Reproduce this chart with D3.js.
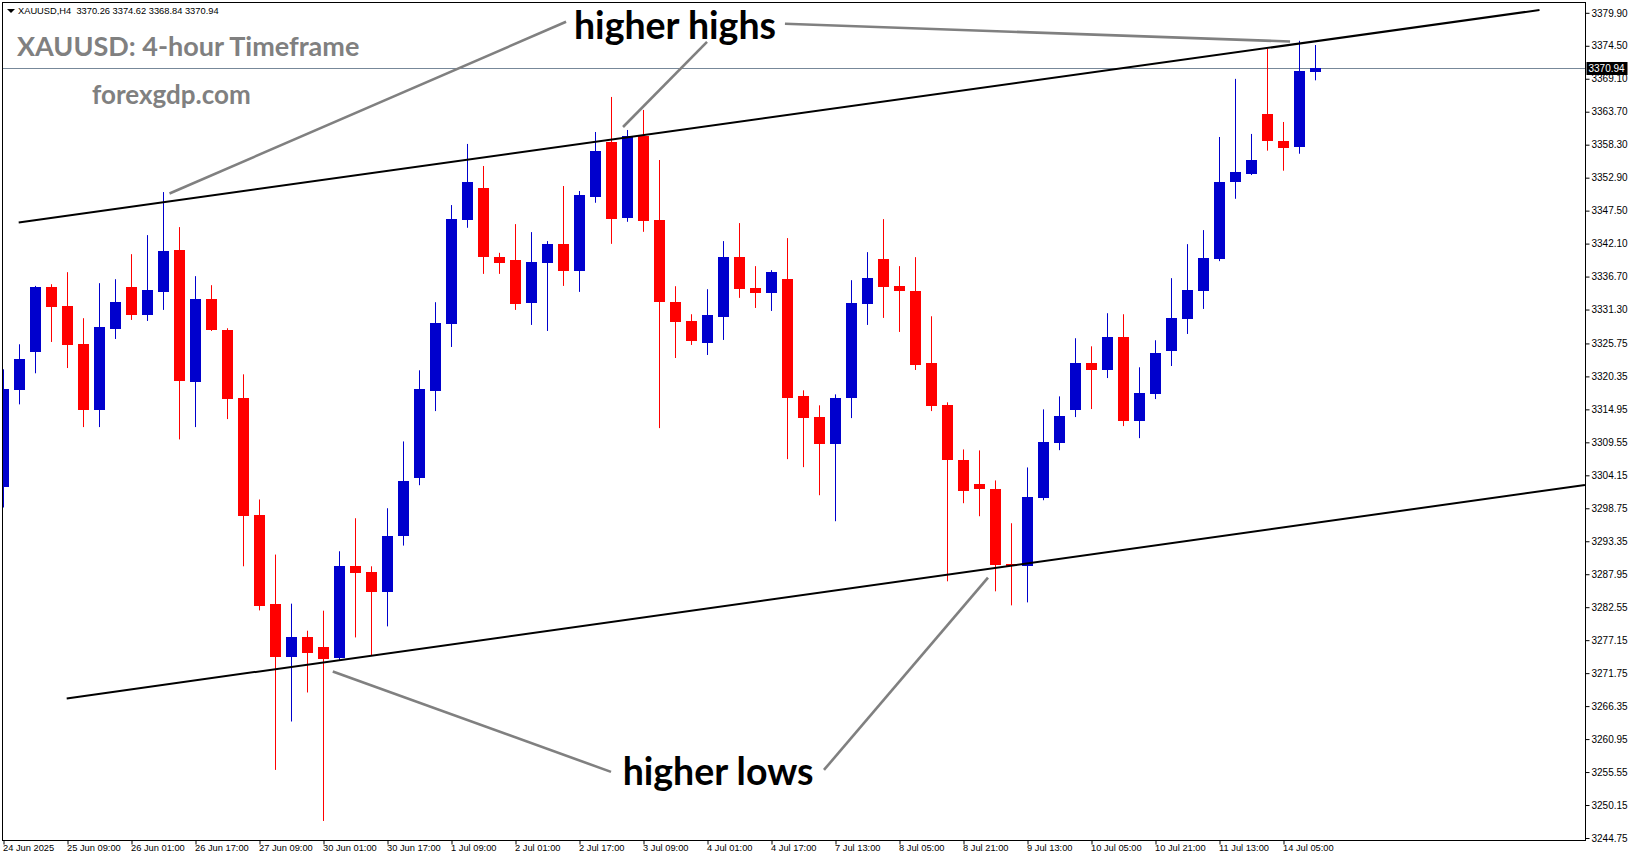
<!DOCTYPE html>
<html><head><meta charset="utf-8">
<script src="https://cdn.jsdelivr.net/npm/d3@7/dist/d3.min.js"></script>
<style>
html,body{margin:0;padding:0;background:#fff;overflow:hidden}
svg{display:block}
</style></head><body>
<svg id="c" width="1631" height="861"></svg>
<script>
// ---------------- data ----------------
const symbolInfo = "XAUUSD,H4";
const lastOHLC = [3370.26, 3374.62, 3368.84, 3370.94];
const chartTitle = "XAUUSD: 4-hour Timeframe";
const siteName = "forexgdp.com";

const opens = [3302.16,3318.07,3324.35,3334.96,3331.84,3325.61,3314.84,3328.12,3334.96,3330.42,
3334.19,3341.03,3319.43,3332.99,3327.91,3316.75,3297.73,3283.13,3274.49,3277.72,
3276.08,3274.16,3289.25,3288.26,3285.15,3294.17,3303.68,3317.95,3328.94,3346.00,
3351.20,3339.88,3339.39,3332.39,3338.95,3342.01,3337.63,3349.77,3358.74,3346.33,
3359.73,3345.95,3332.50,3329.38,3325.83,3330.09,3339.88,3334.80,3334.03,3336.27,
3317.08,3313.64,3309.26,3316.80,3332.22,3339.55,3335.12,3334.30,3322.50,3315.61,
3306.59,3302.65,3301.99,3289.69,3289.25,3300.40,3309.42,3314.84,3322.50,3321.40,
3326.76,3313.03,3317.46,3324.51,3329.76,3334.35,3339.60,3352.23,3353.55,3363.34,
3358.91,3357.81,3370.26];
const highs = [3321.51,3325.61,3335.17,3335.45,3337.42,3329.88,3335.62,3336.27,3340.37,3343.49,
3350.54,3344.80,3336.77,3335.29,3328.24,3320.69,3300.19,3291.17,3283.13,3278.70,
3281.98,3291.71,3297.12,3289.25,3298.76,3309.70,3321.35,3332.50,3348.41,3358.42,
3354.81,3340.59,3345.29,3343.98,3342.51,3351.53,3350.71,3360.38,3366.12,3360.71,
3363.99,3355.79,3335.12,3330.53,3334.63,3342.51,3345.46,3338.41,3337.75,3343.00,
3318.07,3315.61,3317.41,3336.11,3340.70,3346.11,3338.41,3339.88,3330.20,3316.10,
3308.39,3308.23,3303.31,3296.30,3305.44,3314.95,3317.08,3326.60,3325.28,3330.70,
3330.53,3321.84,3326.27,3336.44,3342.01,3344.31,3359.56,3369.08,3360.06,3374.00,
3362.02,3375.31,3374.62];
const lows = [3298.88,3315.77,3320.86,3325.99,3321.72,3312.05,3312.05,3326.48,3329.60,3329.43,
3331.24,3310.03,3312.05,3327.79,3313.36,3289.25,3282.03,3255.90,3263.83,3268.58,
3247.54,3273.78,3277.60,3274.60,3279.41,3292.64,3302.53,3314.67,3325.17,3344.69,
3337.14,3337.14,3331.24,3328.78,3327.79,3335.17,3334.19,3348.79,3342.06,3345.67,
3344.03,3311.88,3323.36,3325.50,3323.86,3326.32,3333.21,3331.56,3331.07,3306.80,
3305.49,3300.89,3296.63,3313.52,3328.78,3329.93,3327.63,3321.40,3314.67,3286.79,
3299.58,3297.45,3285.15,3282.85,3283.34,3300.07,3308.27,3313.69,3315.00,3320.08,
3312.21,3310.24,3316.64,3322.05,3327.30,3331.40,3339.23,3349.44,3353.33,3357.32,
3354.04,3356.82,3368.84];
const closes = [3318.23,3323.15,3334.96,3331.73,3325.50,3314.84,3328.40,3332.50,3330.42,3334.47,
3340.87,3319.59,3332.99,3327.96,3316.64,3297.35,3282.85,3274.49,3277.72,3275.14,
3274.16,3289.25,3288.05,3284.93,3294.28,3303.14,3318.23,3329.06,3346.11,3352.18,
3339.93,3338.95,3332.22,3339.06,3342.01,3337.63,3350.05,3357.27,3346.16,3359.73,
3345.84,3332.55,3329.27,3326.15,3330.37,3339.88,3334.68,3334.03,3337.42,3316.80,
3313.52,3309.26,3316.75,3332.34,3336.44,3335.01,3334.35,3322.22,3315.49,3306.63,
3301.55,3301.88,3289.58,3289.41,3300.52,3309.54,3313.80,3322.50,3321.40,3326.76,
3313.03,3317.57,3324.14,3329.88,3334.47,3339.72,3352.18,3353.82,3355.79,3358.96,
3357.81,3370.30,3370.94];

const yTickValues = [3379.90,3374.50,3369.10,3363.70,3358.30,3352.90,3347.50,3342.10,3336.70,
3331.30,3325.75,3320.35,3314.95,3309.55,3304.15,3298.75,3293.35,3287.95,3282.55,3277.15,
3271.75,3266.35,3260.95,3255.55,3250.15,3244.75];
const xTickBars = [0,4,8,12,16,20,24,28,32,36,40,44,48,52,56,60,64,68,72,76,80];
const xTickLabels = ["24 Jun 2025","25 Jun 09:00","26 Jun 01:00","26 Jun 17:00","27 Jun 09:00",
"30 Jun 01:00","30 Jun 17:00","1 Jul 09:00","2 Jul 01:00","2 Jul 17:00","3 Jul 09:00",
"4 Jul 01:00","4 Jul 17:00","7 Jul 13:00","8 Jul 05:00","8 Jul 21:00","9 Jul 13:00",
"10 Jul 05:00","10 Jul 21:00","11 Jul 13:00","14 Jul 05:00"];

// channel lines: [bar, price] endpoints
const upperChannel = [[0.95,3345.57],[96.0,3380.36]];
const lowerChannel = [[3.95,3267.60],[98.84,3302.57]];
// annotation pointer lines: [bar, price] endpoints
const pointerLines = [
  [[35.16,3378.43],[10.375,3350.30]],
  [[43.97,3375.15],[38.72,3361.20]],
  [[48.84,3378.10],[80.41,3375.20]],
  [[20.58,3272.03],[37.97,3255.58]],
  [[51.28,3255.90],[61.53,3287.40]]
];
const annotationTexts = ["higher highs","higher lows"];
const annotationAnchors = [[41.97,3375.61],[44.66,3253.44]];

// ---------------- layout ----------------
const W = 1631, H = 861;
const pL = 2.5, pT = 2.5, pR = 1585.5, pB = 840.5;
const bullColor = "#0000CD", bearColor = "#FF0000";

const svg = d3.select("#c");
const x = d3.scaleLinear().domain([0, 99]).range([3.5, 3.5 + 16 * 99]);
const y = d3.scaleLinear().domain([3244.75, 3379.90]).range([838, 12.8]);

svg.append("rect").attr("width", W).attr("height", H).attr("fill", "#fff");

svg.append("defs").append("clipPath").attr("id", "plot")
  .append("rect").attr("x", pL).attr("y", pT)
  .attr("width", pR - pL).attr("height", pB - pT);

const plot = svg.append("g").attr("clip-path", "url(#plot)");

const py = Math.round(y(lastOHLC[3])) + 0.5;
// current price line
plot.append("line")
  .attr("x1", pL).attr("x2", pR)
  .attr("y1", py).attr("y2", py)
  .attr("stroke", "#778899").attr("stroke-width", 1);

// candles
const idx = d3.range(opens.length);
const cg = plot.append("g");
cg.selectAll("line.wick").data(idx).join("line")
  .attr("class", "wick")
  .attr("x1", i => x(i)).attr("x2", i => x(i))
  .attr("y1", i => y(highs[i])).attr("y2", i => y(lows[i]))
  .attr("stroke", i => closes[i] >= opens[i] ? bullColor : bearColor)
  .attr("stroke-width", 1);
cg.selectAll("rect.body").data(idx).join("rect")
  .attr("class", "body")
  .attr("x", i => x(i) - 5.5)
  .attr("width", 11)
  .attr("y", i => Math.round(y(Math.max(opens[i], closes[i]))))
  .attr("height", i => Math.max(2, Math.round(Math.abs(y(opens[i]) - y(closes[i])))))
  .attr("fill", i => closes[i] >= opens[i] ? bullColor : bearColor);

// channel lines
const lineGen = d3.line().x(d => x(d[0])).y(d => y(d[1]));
[upperChannel, lowerChannel].forEach(l => {
  plot.append("path").attr("d", lineGen(l))
    .attr("fill", "none").attr("stroke", "#000").attr("stroke-width", 2);
});

// pointer lines
pointerLines.forEach(l => {
  plot.append("path").attr("d", lineGen(l))
    .attr("fill", "none").attr("stroke", "#808080").attr("stroke-width", 2.6);
});

// annotation texts
annotationTexts.forEach((t, k) => {
  svg.append("text")
    .attr("x", x(annotationAnchors[k][0])).attr("y", y(annotationAnchors[k][1]))
    .attr("text-anchor", "middle")
    .attr("font-family", "Lato, 'Open Sans', sans-serif")
    .attr("font-weight", "bold").attr("font-size", 37.5)
    .attr("fill", "#000").text(t);
});

// frame
svg.append("rect").attr("x", pL).attr("y", pT)
  .attr("width", pR - pL).attr("height", pB - pT)
  .attr("fill", "none").attr("stroke", "#000").attr("stroke-width", 1);

// y axis
const yAxis = d3.axisRight(y).tickValues(yTickValues)
  .tickFormat(d3.format(".2f")).tickSize(4).tickPadding(2);
const ya = svg.append("g").attr("transform", `translate(${pR},0)`).call(yAxis);
ya.select(".domain").remove();
ya.selectAll("line").attr("stroke", "#000");
ya.selectAll("text").attr("font-family", "'Liberation Sans', Arial, sans-serif")
  .attr("font-size", 10).attr("fill", "#000");

// x axis
const xAxis = d3.axisBottom(x).tickValues(xTickBars)
  .tickFormat((d, i) => xTickLabels[i]).tickSize(4).tickPadding(2);
const xa = svg.append("g").attr("transform", `translate(0,${pB})`).call(xAxis);
xa.select(".domain").remove();
xa.selectAll("line").attr("stroke", "#000");
xa.selectAll("text").attr("font-family", "'Liberation Sans', Arial, sans-serif")
  .attr("font-size", 9.3).attr("fill", "#000")
  .attr("text-anchor", "start").attr("dx", "-1").attr("dy", "0.45em");

// current price label box
svg.append("rect").attr("x", pR + 1).attr("y", py - 6.5)
  .attr("width", 41).attr("height", 13).attr("fill", "#000");
svg.append("text").attr("x", pR + 3).attr("y", py + 3.8)
  .attr("font-family", "'Liberation Sans', Arial, sans-serif")
  .attr("font-size", 10).attr("fill", "#fff").text(d3.format(".2f")(lastOHLC[3]));

// top-left info
svg.append("path").attr("d", "M7,9 L15,9 L11,13 Z").attr("fill", "#000");
svg.append("text").attr("x", 18).attr("y", 14)
  .attr("font-family", "'Liberation Sans', Arial, sans-serif")
  .attr("font-size", 9.3).attr("fill", "#000")
  .attr("xml:space", "preserve")
  .text(symbolInfo + "  " + lastOHLC.map(d3.format(".2f")).join(" "));

// title & site
svg.append("text").attr("x", 17).attr("y", 56)
  .attr("font-family", "Lato, 'Open Sans', sans-serif").attr("font-weight", "bold")
  .attr("font-size", 27).attr("fill", "#808080").text(chartTitle);
svg.append("text").attr("x", 92).attr("y", 104)
  .attr("font-family", "Lato, 'Open Sans', sans-serif").attr("font-weight", "bold")
  .attr("font-size", 26).attr("fill", "#808080").text(siteName);
</script>
</body></html>
